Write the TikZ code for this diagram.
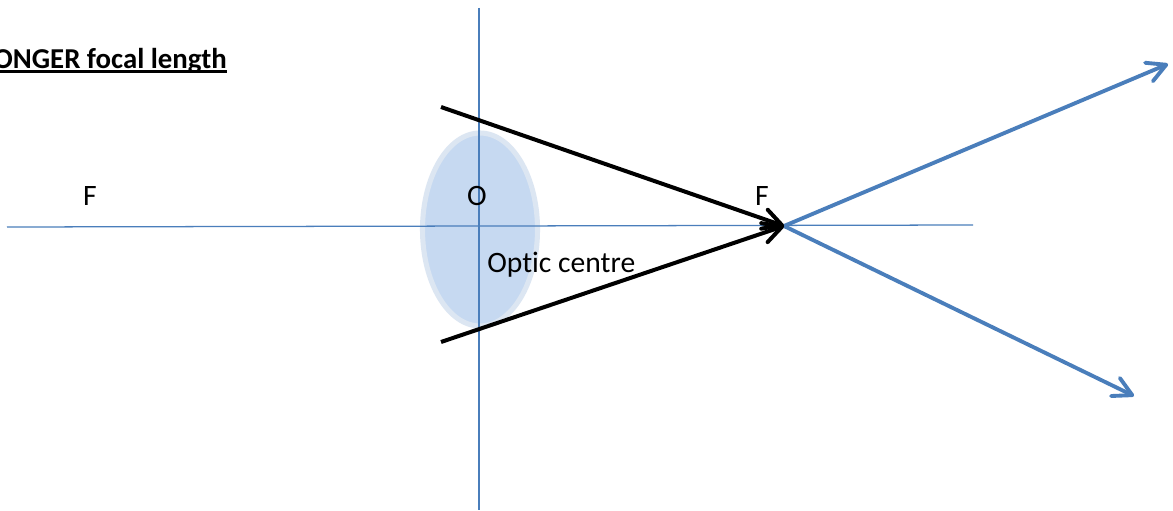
\documentclass[tikz,border=0pt]{standalone}
\usepackage{fontspec}
\setmainfont{Carlito}[Ligatures=NoCommon]
\usetikzlibrary{arrows.meta}
\definecolor{axisblue}{HTML}{4A7EBB}
\definecolor{rayblue}{HTML}{4A7EBB}
\definecolor{lensfill}{HTML}{C6D9F1}
\definecolor{lensedge}{HTML}{DCE6F2}
\tikzset{
  x=0.75pt,y=-0.75pt,
  axisline/.style={draw=axisblue,line width=0.95pt},
  lensbody/.style={fill=lensfill,draw=lensedge,line width=3.8pt},
  blackray/.style={draw=black,line width=3pt,-{Straight Barb[length=14pt,width=15pt,line width=3pt,round]}},
  blueray/.style={draw=rayblue,line width=2.9pt,-{Straight Barb[length=14pt,width=15pt,line width=2.9pt,round]}},
  label/.style={inner sep=0pt,font=\fontsize{22.2pt}{26pt}\selectfont,text=black},
}
\begin{document}
\begin{tikzpicture}
\useasboundingbox (0,0) rectangle (1173,510);
\clip (0,0) rectangle (1173,510);
\fill[white] (0,0) rectangle (1173,510);
\path[lensbody] (480,229.5) ellipse [x radius=57.5,y radius=96.5];
\coordinate (axL) at (7,227);
\coordinate (axR) at (973,225);
\coordinate (vT) at (479,8);
\coordinate (vB) at (479,510);
\coordinate (rT) at (441,107);
\coordinate (rB) at (441,342);
\coordinate (focus) at (784,226);
\coordinate (bT) at (1168,64);
\coordinate (bB) at (1134,396);
\draw[axisline] (axL) -- (axR);
\draw[axisline] (vT) -- (vB);
\draw[blueray] (focus) -- (bT);
\draw[blueray] (focus) -- (bB);
\draw[blackray] (rT) -- (focus);
\draw[blackray] (rB) -- (focus);
\node[label,anchor=center] (fl) at (90,196) {F};
\node[label,anchor=center] (oc) at (477,196) {O};
\node[label,anchor=center] (fr) at (762,196) {F};
\node[label,anchor=base west] (cap) at (487,272) {Optic centre};
\node[label,anchor=base east,font=\fontsize{21.6pt}{26pt}\selectfont\bfseries] (head) at (227,68.5) {ONGER focal length};
\coordinate (ulL) at (-5,71.3);
\coordinate (ulR) at (227,71.3);
\draw[black,line width=1.9pt] (ulL) -- (ulR);
\end{tikzpicture}
\end{document}
